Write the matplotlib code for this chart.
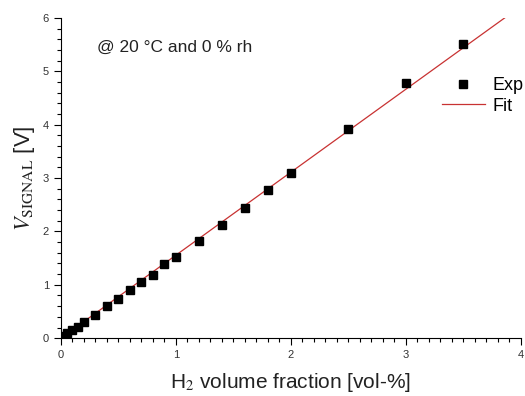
import numpy as np
import matplotlib.pyplot as plt
from matplotlib.ticker import MultipleLocator

plt.rcParams['font.family'] = ['Liberation Sans', 'DejaVu Sans']
plt.rcParams['mathtext.fontset'] = 'stix'

# measured sensor signal vs H2 concentration
h2 = [0.02, 0.05, 0.1, 0.15, 0.2, 0.3, 0.4, 0.5, 0.6, 0.7, 0.8, 0.9, 1.0,
      1.2, 1.4, 1.6, 1.8, 2.0, 2.5, 3.0, 3.5]
signal = [0.05, 0.10, 0.16, 0.21, 0.31, 0.44, 0.61, 0.74, 0.91, 1.06, 1.19, 1.39, 1.52,
          1.83, 2.13, 2.44, 2.78, 3.09, 3.92, 4.78, 5.52]

# linear fit
fit_slope = 1.555
fit_offset = 0.0
fit_x = [0.0, 4.0]

fig = plt.figure(figsize=(5.25, 3.96), dpi=100)
ax = fig.add_axes([0.116, 0.146, 0.876, 0.8085])

fx = np.array(fit_x)
ax.plot(fx, fit_slope * fx + fit_offset, color='#c83232', lw=0.9, label='Fit', zorder=2)
ax.plot(h2, signal, 's', color='black', ms=5.5, label='Exp', zorder=3)

ax.set_xlim(0, 4)
ax.set_ylim(0, 6)
ax.xaxis.set_major_locator(MultipleLocator(1))
ax.xaxis.set_minor_locator(MultipleLocator(0.1))
ax.yaxis.set_major_locator(MultipleLocator(1))
ax.yaxis.set_minor_locator(MultipleLocator(0.2))
ax.tick_params(which='major', direction='out', length=5, width=0.8, labelsize=8,
               labelcolor='#333333')
ax.tick_params(which='minor', direction='out', length=3, width=0.8)
ax.spines['top'].set_visible(False)
ax.spines['right'].set_visible(False)

ax.set_xlabel('H$_2$ volume fraction [vol-%]', fontsize=15, color='#222222', labelpad=8)
ax.set_ylabel(r'$V_{\mathrm{SIGNAL}}$ [V]', fontsize=16, color='#222222', labelpad=4)

ax.text(0.31, 5.45, '@ 20 °C and 0 % rh', fontsize=12.5, color='#222222', va='center')

handles, labels = ax.get_legend_handles_labels()
ax.legend(handles[::-1], labels[::-1], loc='center left', bbox_to_anchor=(0.828, 0.757),
          frameon=False, fontsize=13, handlelength=2.4, labelspacing=0.2,
          handletextpad=0.4, borderpad=0, borderaxespad=0)

fig.savefig('out.png', dpi=100)
